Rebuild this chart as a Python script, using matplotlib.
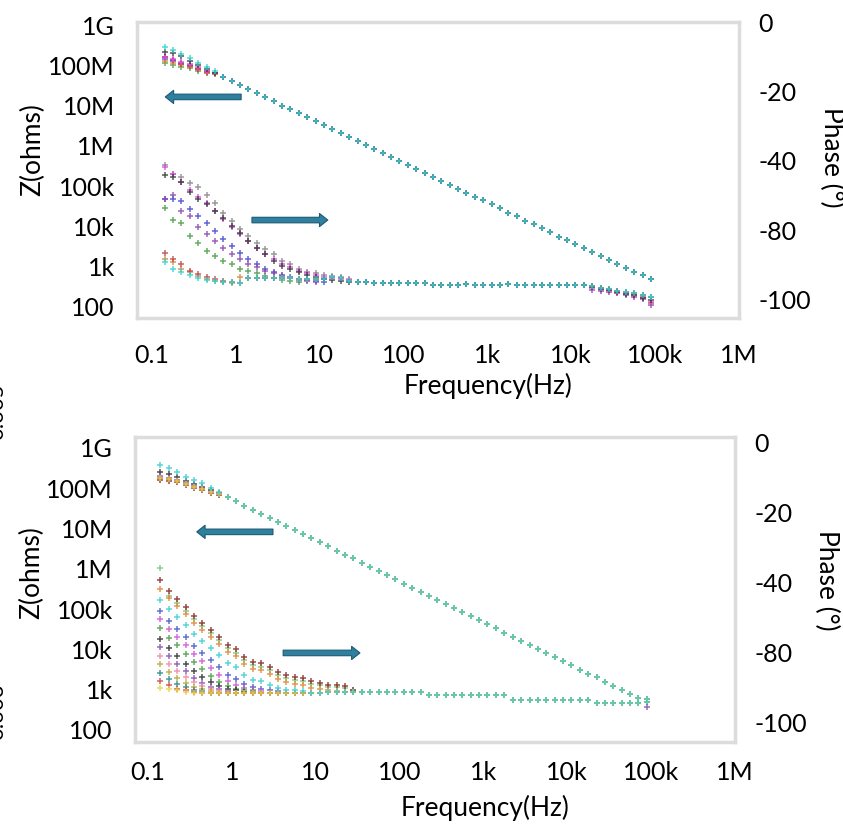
import matplotlib.pyplot as plt
from matplotlib.ticker import FixedLocator, NullLocator

plt.rcParams['font.family'] = ['Lato', 'DejaVu Sans']

# frequency sweep (Hz), 10 points per decade
FREQ = [0.141, 0.178, 0.224, 0.282, 0.355, 0.447, 0.562, 0.708, 0.891, 1.12,
        1.41, 1.78, 2.24, 2.82, 3.55, 4.47, 5.62, 7.08, 8.91, 11.2,
        14.1, 17.8, 22.4, 28.2, 35.5, 44.7, 56.2, 70.8, 89.1, 112,
        141, 178, 224, 282, 355, 447, 562, 708, 891, 1120,
        1410, 1780, 2240, 2820, 3550, 4470, 5620, 7080, 8910, 11200,
        14100, 17800, 22400, 28200, 35500, 44700, 56200, 70800, 89100]

Z_TICKS = [1e2, 1e3, 1e4, 1e5, 1e6, 1e7, 1e8, 1e9]
Z_LABELS = ['100', '1k', '10k', '100k', '1M', '10M', '100M', '1G']
PH_TICKS = [0, -25, -50, -75, -100]
PH_LABELS = ['0', '-20', '-40', '-80', '-100']
F_TICKS = [0.1, 1, 10, 100, 1e3, 1e4, 1e5, 1e6]
F_LABELS = ['0.1', '1', '10', '100', '1k', '10k', '100k', '1M']

# ---------------- top panel ----------------
TOP_COLORS = {'gray': '#8a8a8a', 'green': '#4aa04a', 'blue': '#4a4ad0',
              'purple': '#8a4ab0', 'orange': '#d08a3a', 'red': '#c04848',
              'magenta': '#e048e0', 'dark': '#3a3a3a', 'cyan': '#35d4d4'}

TOP_Z_LINE = [1.6e8, 1.35e8, 1.1e8, 9.5e7, 8.0e7, 7.0e7,
              6.3e7, 5.0e7, 4.0e7, 3.2e7, 2.6e7, 2.0e7, 1.6e7, 1.3e7, 1.0e7, 8.2e6,
              6.5e6, 5.2e6, 4.1e6, 3.3e6, 2.6e6, 2.1e6, 1.7e6, 1.3e6, 1.05e6, 8.5e5,
              6.7e5, 5.35e5, 4.25e5, 3.4e5, 2.7e5, 2.15e5, 1.7e5, 1.37e5, 1.09e5, 8.7e4,
              6.9e4, 5.5e4, 4.4e4, 3.5e4, 2.8e4, 2.2e4, 1.8e4, 1.4e4, 1.12e4, 8.9e3,
              7.1e3, 5.6e3, 4.5e3, 3.6e3, 2.9e3, 2.3e3, 1.8e3, 1.45e3, 1.15e3, 920,
              730, 620, 490]
TOP_Z_START = {
    'cyan': [2.8e8, 2.4e8, 1.9e8, 1.5e8, 1.12e8, 8.9e7, 7.1e7],
    'dark': [2.2e8, 2.0e8, 1.66e8, 1.3e8, 1.0e8, 7.9e7, 6.6e7],
    'magenta': [1.6e8, 1.4e8, 1.2e8, 1.05e8, 8.9e7, 7.4e7, 6.3e7],
    'blue': [1.4e8, 1.26e8, 1.12e8, 1.0e8, 8.3e7, 7.1e7, 6.3e7],
    'green': [1.12e8, 1.0e8, 8.9e7, 8.5e7, 7.1e7, 6.3e7, 6.0e7],
    'orange': [1.26e8, 1.12e8, 1.0e8, 9.1e7, 7.6e7, 6.6e7, 6.2e7],
}

TOP_PH_LINE = [-91.8, -91.8, -91.8, -91.8, -91.8, -91.8, -91.8, -91.8, -91.8, -91.8,
               -92.2, -92.2, -92.2, -92.2, -92.2, -92.2,
               -92.6, -92.6, -92.6, -92.6, -91.8, -92.2,
               -93.3, -93.6, -93.6,
               -94.0, -94.0, -94.0, -94.0, -94.0, -94.0, -94.0,
               -94.7, -94.7, -94.7, -94.7, -94.4, -94.7, -94.7, -94.7, -94.7, -94.4,
               -94.7, -94.7, -94.7, -94.7, -94.7, -94.7, -94.7, -94.7, -94.7,
               -95.0, -95.7, -96.1, -96.8, -97.2, -97.5, -98.2, -98.9]
TOP_PH_START = {
    'gray': [-51.4, -54.6, -55.7, -57.8, -59.2, -62.1, -65.2, -68.8, -71.6, -74.5, -77.0, -79.4,
             -81.6, -83.3, -85.8, -86.9, -88.7, -90.1, -90.4, -91.1, -91.5, -91.8, -92.6],
    'magenta': [-52.1, -54.6, -57.4, -60.3, -62.8, -65.2, -68.1, -70.9, -73.8, -76.2, -78.7, -81.2,
                -83.3, -85.1, -86.9, -88.3, -89.4, -90.4, -91.1, -91.8, -92.2, -92.6, -92.9],
    'dark': [-55.0, -55.7, -57.4, -61.0, -63.8, -65.6, -68.1, -70.6, -73.4, -75.9, -78.7, -81.2,
             -83.3, -85.8, -87.6, -88.7, -90.1, -91.1, -91.8, -92.6, -92.9, -93.3, -93.6],
    'blue': [-63.8, -63.8, -64.5, -67.4, -69.9, -72.3, -75.2, -78.0, -80.5, -83.0, -85.1, -86.9,
             -88.7, -90.1, -91.1, -91.8, -92.6, -92.9, -93.3, -93.6],
    'green': [-67.0, -71.3, -72.3, -77.0, -79.4, -82.3, -84.0, -85.8, -86.9, -88.7, -89.4, -90.4,
              -91.5, -92.2, -92.9, -93.3, -93.6],
    'purple': [-63.8, -62.1, -68.1, -69.9, -73.8, -76.2, -78.7, -81.2, -83.3, -85.1, -86.9, -88.3,
               -89.4, -90.4, -91.5, -92.2, -92.9, -93.3, -93.6],
    'cyan': [-86.5, -88.7, -90.1, -91.1, -92.2, -92.9, -93.3, -93.6, -93.6, -94.0],
    'orange': [-85.1, -86.5, -88.7, -90.1, -91.5, -92.6, -93.3, -93.6, -94.0],
    'red': [-83.0, -85.1, -87.2, -89.4, -90.8, -91.8, -92.6, -93.3, -93.6, -94.0],
}
# last 8 points, where a few series drop below the common track
TOP_PH_END = {
    'purple': [-96.5, -96.8, -97.2, -97.5, -98.2, -98.9, -99.6, -101.8],
    'magenta': [-95.7, -96.5, -96.8, -97.5, -97.9, -98.6, -99.3, -100.7],
    'dark': [-95.4, -96.1, -96.5, -97.2, -97.9, -98.2, -99.3, -100.0],
    'red': [-95.0, -95.7, -96.5, -96.8, -97.5, -98.2, -98.9, -101.1],
}

# ---------------- bottom panel ----------------
BOT_COLORS = {'lightgreen': '#78c878', 'darkred': '#8c2a2a', 'orange': '#e0883a',
              'blue': '#4a5ac8', 'magenta': '#d455d4', 'green': '#4aa04a',
              'black': '#333333', 'purple': '#8455b4', 'pink': '#f08aa8',
              'olive': '#b8a838', 'teal': '#2f8a8a', 'red': '#d04444',
              'yellow': '#e8d44a', 'cyan': '#3cd0d0'}

BOT_Z_LINE = [1.8e8, 1.65e8, 1.5e8, 1.3e8, 1.1e8, 9.8e7, 8.0e7, 7.0e7,
              5.9e7, 4.7e7, 3.7e7, 2.9e7, 2.3e7, 1.8e7, 1.45e7, 1.15e7, 9.1e6, 7.2e6,
              5.7e6, 4.5e6, 3.6e6, 2.8e6, 2.2e6, 1.8e6, 1.4e6, 1.1e6, 8.7e5, 6.9e5,
              5.5e5, 4.3e5, 3.4e5, 2.7e5, 2.1e5, 1.7e5, 1.35e5, 1.07e5, 8.4e4, 6.6e4,
              5.2e4, 4.2e4, 3.3e4, 2.6e4, 2.05e4, 1.6e4, 1.3e4, 1.02e4, 8.1e3, 6.4e3,
              5.0e3, 4.0e3, 3.1e3, 2.5e3, 2.0e3, 1.55e3, 1.23e3, 980, 770, 610, 490]
BOT_Z_START = {
    'cyan': [3.8e8, 3.2e8, 2.5e8, 1.9e8, 1.6e8, 1.35e8, 1.0e8, 8.1e7],
    'black': [2.5e8, 2.2e8, 1.9e8, 1.5e8, 1.26e8, 1.1e8, 8.9e7, 7.4e7],
    'purple': [2.0e8, 1.8e8, 1.6e8, 1.35e8, 1.15e8, 1.0e8, 8.3e7, 7.1e7],
    'darkred': [1.6e8, 1.5e8, 1.45e8, 1.2e8, 1.0e8, 9.1e7, 7.6e7, 6.8e7],
}

BOT_PH_LINE = [-89.3, -89.3, -89.3, -89.3, -89.3, -89.3, -89.3, -89.3, -89.3, -89.3,
               -89.3, -89.3, -89.3, -89.3, -89.3, -89.3, -89.3, -89.3, -89.3, -89.3,
               -88.9, -88.9, -88.9,
               -88.9, -88.9, -88.9, -88.9, -88.9, -88.9, -88.9, -88.9, -88.9,
               -90.0, -90.0, -90.0, -90.0, -90.0, -90.0, -90.0, -90.0, -90.0, -90.0,
               -91.8, -91.8, -91.8, -91.8, -91.8, -91.8, -91.8, -91.8, -91.8, -91.8,
               -92.9, -92.9, -92.9, -92.9, -92.9, -92.9,
               -91.4]
BOT_PH_START = {
    'lightgreen': [-44.6, -54.5, -57.0, -60.0, -63.0, -65.5, -68.0, -70.5, -73.3, -75.0, -77.5,
                   -79.3, -80.0, -81.2, -83.0, -84.0, -84.7, -85.0, -86.0, -86.5, -87.0, -87.2,
                   -87.5, -88.3],
    'darkred': [-48.9, -52.9, -55.7, -58.6, -61.8, -64.3, -66.8, -69.3, -72.1, -73.6, -76.4,
                -78.2, -78.6, -80.0, -81.8, -82.9, -83.6, -83.9, -85.0, -85.7, -86.4, -86.4,
                -86.8, -88.2],
    'orange': [-52.0, -55.5, -58.3, -61.2, -64.4, -66.9, -69.4, -71.9, -74.7, -76.2, -79.0,
               -80.8, -81.2, -82.6, -84.4, -85.5, -86.2, -86.5, -87.6, -88.0, -88.4, -88.6],
    'blue': [-60.0, -63.6, -66.4, -69.3, -72.5, -75.0, -77.5, -80.0, -82.8, -84.3, -86.2,
             -87.3, -87.8, -88.3, -88.6],
    'magenta': [-63.0, -66.6, -69.4, -72.3, -75.5, -78.0, -80.5, -83.0, -85.0, -86.3, -87.4,
                -88.1, -88.5],
    'green': [-66.0, -69.5, -72.3, -75.2, -78.4, -80.9, -83.4, -85.3, -86.8, -87.7, -88.3, -88.7],
    'black': [-70.0, -73.4, -76.0, -78.8, -81.6, -83.7, -85.5, -86.9, -87.8, -88.4, -88.8],
    'purple': [-73.0, -76.2, -78.8, -81.3, -83.8, -85.6, -87.0, -88.0, -88.6],
    'pink': [-76.0, -79.0, -81.4, -83.6, -85.5, -86.9, -87.9, -88.5],
    'olive': [-79.0, -81.8, -83.9, -85.6, -87.0, -88.0, -88.6],
    'teal': [-82.0, -84.3, -86.0, -87.3, -88.2, -88.7],
    'red': [-85.0, -86.6, -87.7, -88.4, -88.8],
    'yellow': [-87.5, -88.0, -88.4, -88.8],
    'cyan': [-56.0, -59.4, -62.2, -65.1, -68.3, -70.8, -73.3, -75.8, -78.6, -80.1, -82.9,
             -84.7, -85.1, -86.5, -87.6, -88.1, -88.4, -88.6],
}
BOT_PH_END = {'purple': [-94.3]}


def series(line, start=None, end=None):
    vals = list(line)
    if start:
        vals[:len(start)] = start
    if end:
        vals[len(vals) - len(end):] = end
    return vals


def panel(rect, xlim, zlim, phlim, colors, z_line, z_start, ph_line, ph_start, ph_end,
          xpad, label_pos, arrows):
    ax = fig.add_axes(rect)
    ax2 = ax.twinx()
    for name, col in colors.items():
        ph = series(ph_line, ph_start.get(name), ph_end.get(name))
        ax2.plot(FREQ, ph, ls='none', marker='+', ms=4.5, mew=1.1, color=col, alpha=0.85)
    for name, col in colors.items():
        z = series(z_line, z_start.get(name))
        ax.plot(FREQ, z, ls='none', marker='+', ms=4.5, mew=1.1, color=col, alpha=0.85)

    ax.set_xscale('log')
    ax.set_yscale('log')
    ax.set_xlim(*xlim)
    ax.set_ylim(*zlim)
    ax2.set_ylim(*phlim)
    ax.xaxis.set_major_locator(FixedLocator(F_TICKS))
    ax.set_xticklabels(F_LABELS)
    ax.yaxis.set_major_locator(FixedLocator(Z_TICKS))
    ax.set_yticklabels(Z_LABELS)
    ax.xaxis.set_minor_locator(NullLocator())
    ax.yaxis.set_minor_locator(NullLocator())
    ax2.yaxis.set_major_locator(FixedLocator(PH_TICKS))
    ax2.set_yticklabels(PH_LABELS)
    ax.tick_params(axis='both', length=0, labelsize=18)
    ax.tick_params(axis='x', pad=xpad)
    ax.tick_params(axis='y', pad=16)
    ax2.tick_params(axis='y', length=0, labelsize=18, pad=14)

    for s in ax.spines.values():
        s.set_color('#dcdcdc')
        s.set_linewidth(2.5)
    for s in ax2.spines.values():
        s.set_visible(False)

    (xl, zl, pl) = label_pos
    ax.text(xl[0], xl[1], 'Frequency(Hz)', transform=ax.transAxes, ha='center',
            va='center', fontsize=19)
    ax.text(zl[0], zl[1], 'Z(ohms)', transform=ax.transAxes, ha='center',
            va='center', rotation=90, fontsize=19)
    ax.text(pl[0], pl[1], 'Phase (°)', transform=ax.transAxes, ha='center',
            va='center', rotation=-90, fontsize=19)

    for tail, head in arrows:
        ax.annotate('', xy=head, xytext=tail, xycoords='axes fraction',
                    textcoords='axes fraction', zorder=5,
                    arrowprops=dict(arrowstyle='simple,head_length=0.6,head_width=0.95,tail_width=0.4',
                                    fc='#2f7f9e', ec='#1d5a73', lw=0.8, mutation_scale=10,
                                    shrinkA=0, shrinkB=0))
    return ax


fig = plt.figure(figsize=(8.43, 8.25), dpi=100)

panel([0.1625, 0.6145, 0.7141, 0.3588], (0.066, 1e6), (53, 1.19e9), (-106.5, 0),
      TOP_COLORS, TOP_Z_LINE, TOP_Z_START, TOP_PH_LINE, TOP_PH_START, TOP_PH_END,
      19, ((0.583, -0.230), (-0.173, 0.568), (1.154, 0.544)),
      [((0.173, 0.747), (0.047, 0.747)), ((0.191, 0.331), (0.317, 0.331))])

panel([0.1601, 0.1006, 0.7117, 0.3697], (0.070, 1e6), (50, 1.87e9), (-106.8, 2.1),
      BOT_COLORS, BOT_Z_LINE, BOT_Z_START, BOT_PH_LINE, BOT_PH_START, BOT_PH_END,
      14, ((0.583, -0.216), (-0.172, 0.554), (1.153, 0.531)),
      [((0.230, 0.689), (0.103, 0.689)), ((0.247, 0.292), (0.375, 0.292))])

# labels of a neighbouring figure, cut off at the left edge
fig.text(-0.003, 1 - 412 / 825, '0.005', rotation=90, ha='center', va='center', fontsize=16)
fig.text(-0.003, 1 - 712 / 825, '0.003', rotation=90, ha='center', va='center', fontsize=16)

fig.savefig('out.png', dpi=100)
